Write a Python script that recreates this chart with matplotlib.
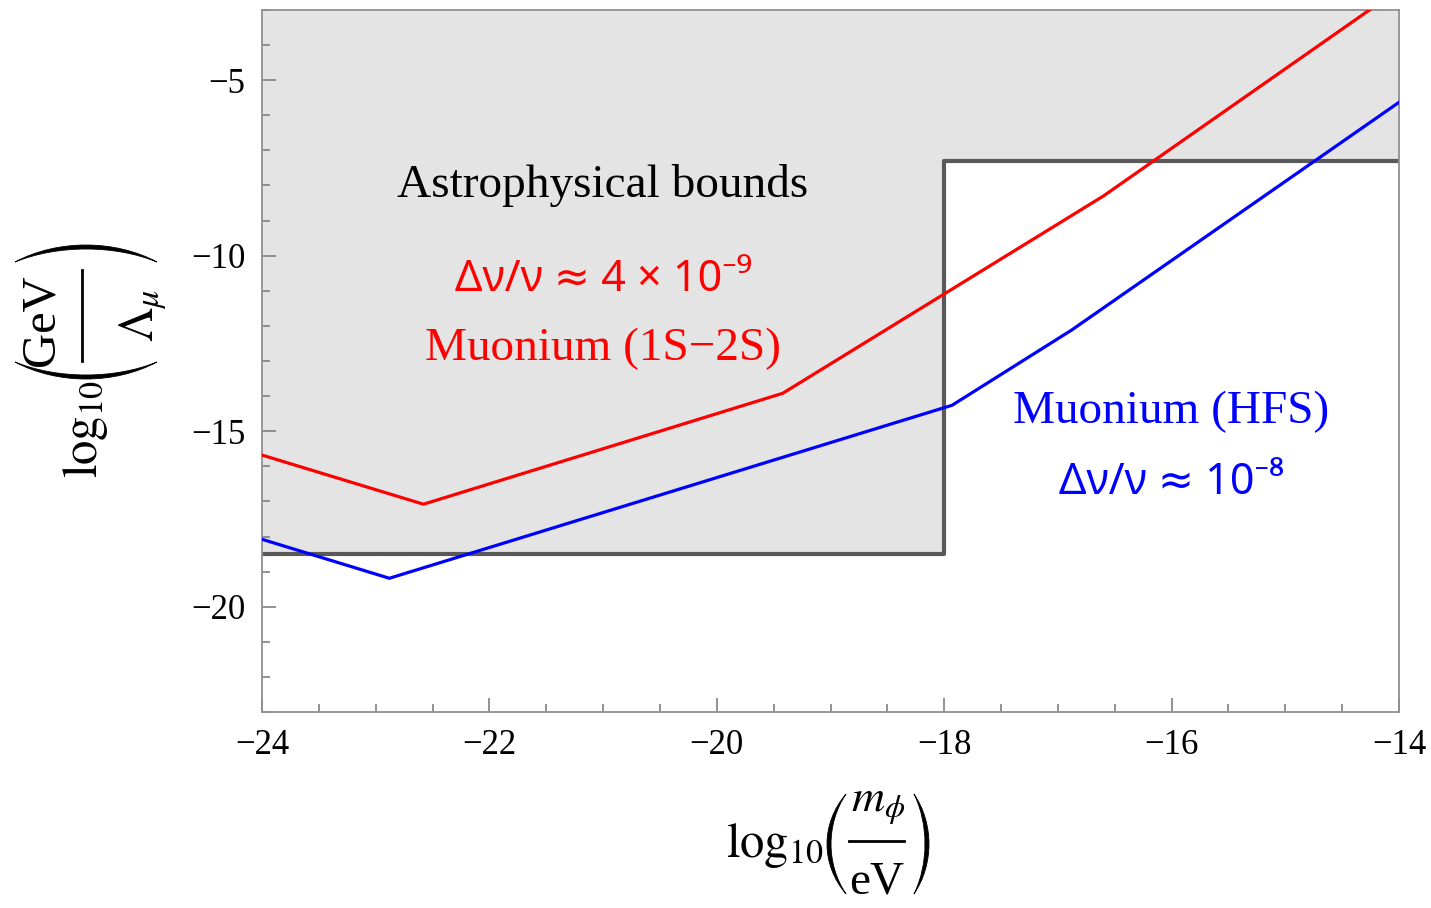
import numpy as np
import matplotlib
matplotlib.use('Agg')
import matplotlib.pyplot as plt
from matplotlib.ticker import MultipleLocator
from matplotlib.transforms import IdentityTransform
from matplotlib.path import Path
from matplotlib.patches import PathPatch
from matplotlib.lines import Line2D

plt.rcParams['font.family'] = ['Liberation Serif', 'DejaVu Serif']
plt.rcParams['mathtext.fontset'] = 'stix'

# log10(m_phi / eV) vs log10(GeV / Lambda_mu)
red_x = [-24.0, -22.58, -19.42, -16.60, -14.26]
red_y = [-15.68, -17.08, -13.92, -8.30, -3.0]

blue_x = [-24.0, -22.88, -17.93, -16.88, -14.0]
blue_y = [-18.08, -19.19, -14.26, -12.12, -5.63]

# astrophysical bound (step)
bound_x = [-24.0, -18.0, -18.0, -14.0]
bound_y = [-18.5, -18.5, -7.3, -7.3]

xmin, xmax = -24, -14
ymin, ymax = -23, -3

W, H = 1431, 908
PX = IdentityTransform()


def minus_fmt(v, p):
    return '\u2212%d' % abs(v) if v < 0 else '%d' % v


def put(x, y, s, **kw):
    # x, y in pixels from the top left corner
    fig.text(x, H - y, s, transform=PX, **kw)


def bar(x0, y0, x1, y1):
    fig.add_artist(Line2D([x0, x1], [H - y0, H - y1], transform=PX, color='black', lw=2.0))


def paren(ends, mid, u0, u1, vertical=True, thick=4):
    # crescent shaped stretched parenthesis
    h = u1 - u0
    d = thick if mid < ends else -thick
    co = (mid - 0.25 * ends) / 0.75
    ci = (mid + d - 0.25 * ends) / 0.75
    pts = [(ends, u0), (co, u0 + 0.3 * h), (co, u1 - 0.3 * h), (ends, u1),
           (ci, u1 - 0.3 * h), (ci, u0 + 0.3 * h), (ends, u0), (ends, u0)]
    if vertical:
        verts = [(v, H - u) for v, u in pts]
    else:
        verts = [(u, H - v) for v, u in pts]
    codes = [Path.MOVETO] + [Path.CURVE4] * 6 + [Path.CLOSEPOLY]
    fig.add_artist(PathPatch(Path(verts, codes), transform=PX, fc='black', ec='black', lw=0.6))


fig = plt.figure(figsize=(W / 100, H / 100), dpi=100)
ax = fig.add_axes([262 / W, 1 - 712 / H, (1399 - 262) / W, (712 - 10) / H])

ax.fill_between(bound_x, bound_y, ymax, color='#e4e4e4', lw=0, zorder=1)
ax.plot(bound_x, bound_y, color='#595959', lw=3.0, zorder=2)
ax.plot(red_x, red_y, color='#ff0000', lw=2.3, zorder=3)
ax.plot(blue_x, blue_y, color='#0000ff', lw=2.3, zorder=3)

ax.set_xlim(xmin, xmax)
ax.set_ylim(ymin, ymax)

ax.xaxis.set_major_locator(MultipleLocator(2))
ax.xaxis.set_minor_locator(MultipleLocator(0.5))
ax.yaxis.set_major_locator(MultipleLocator(5))
ax.yaxis.set_minor_locator(MultipleLocator(1))
ax.tick_params(which='both', direction='in', color='#808080', width=1.2,
               top=False, right=False, labelsize=25, pad=12)
ax.tick_params(which='major', length=10)
ax.tick_params(which='minor', length=6)
ax.xaxis.set_major_formatter(plt.FuncFormatter(minus_fmt))
ax.yaxis.set_major_formatter(plt.FuncFormatter(minus_fmt))

for s in ax.spines.values():
    s.set_color('#909090')
    s.set_linewidth(1.3)

# x label: log10(m_phi / eV)
put(824, 857, r'$\log_{10}$', fontsize=35, ha='right', va='baseline')
put(878, 812, r'$m_\phi$', fontsize=33, ha='center', va='baseline')
bar(849, 841, 904, 841)
put(877, 894, 'eV', fontsize=34, ha='center', va='baseline')
paren(846, 827, 794, 894)
paren(914, 929, 794, 894)

# y label: log10(GeV / Lambda_mu)
put(97, 478, r'$\log_{10}$', fontsize=35, ha='left', va='baseline', rotation=90, rotation_mode='anchor')
put(53, 320, 'GeV', fontsize=35, ha='center', va='baseline', rotation=90, rotation_mode='anchor')
bar(82, 270, 82, 361)
put(153, 315, r'$\Lambda_\mu$', fontsize=35, ha='center', va='baseline', rotation=90, rotation_mode='anchor')
paren(362, 379, 15, 157, vertical=False)
paren(262, 245, 15, 157, vertical=False)

sans = ['Noto Sans', 'DejaVu Sans']
ax.text(-21.0, -7.99, 'Astrophysical bounds', fontsize=34, ha='center', va='center', color='black')
ax.text(-21.0, -10.70, 'Δν/ν ≈ 4 × 10\u207b\u2079', fontsize=31, family=sans,
        ha='center', va='center', color='#ff0000')
ax.text(-21.0, -12.64, 'Muonium (1S\u22122S)', fontsize=34, ha='center', va='center', color='#ff0000')
ax.text(-16.0, -14.46, 'Muonium (HFS)', fontsize=34, ha='center', va='center', color='#0000ff')
ax.text(-16.0, -16.48, 'Δν/ν ≈ 10\u207b\u2078', fontsize=31, family=sans,
        ha='center', va='center', color='#0000ff')

fig.savefig('out.png', dpi=100)
